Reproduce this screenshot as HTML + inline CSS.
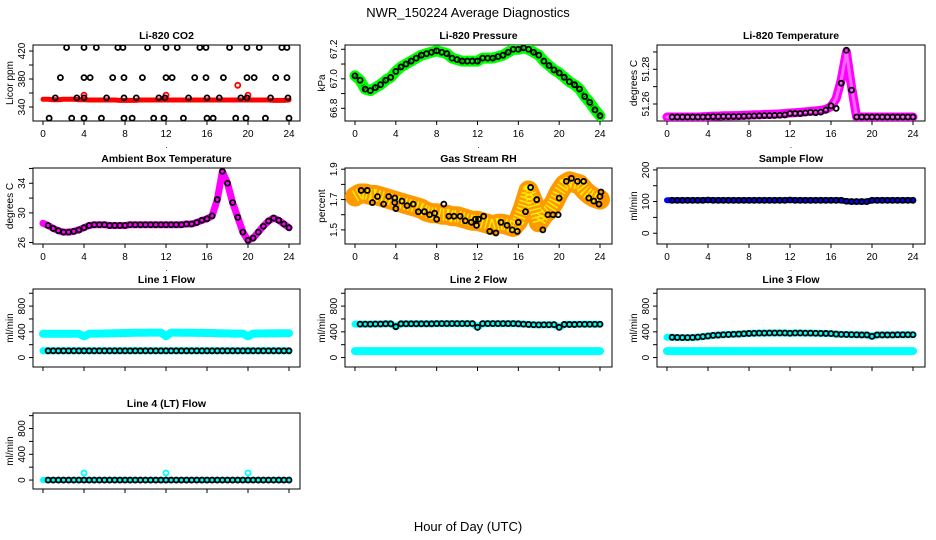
<!DOCTYPE html>
<html><head><meta charset="utf-8"><style>
body{margin:0;background:#fff}
svg{display:block;font-family:"Liberation Sans",sans-serif}
</style></head><body>
<svg id="c" width="936" height="540" viewBox="0 0 936 540">
<text x="468" y="17" text-anchor="middle" font-size="13">NWR_150224  Average Diagnostics</text>
<text x="468" y="531" text-anchor="middle" font-size="13">Hour of Day (UTC)</text>
</svg>
<script>
const halfHours=[0,0.5,1,1.5,2,2.5,3,3.5,4,4.5,5,5.5,6,6.5,7,7.5,8,8.5,9,9.5,10,10.5,11,11.5,12,12.5,13,13.5,14,14.5,15,15.5,16,16.5,17,17.5,18,18.5,19,19.5,20,20.5,21,21.5,22,22.5,23,23.5,24];
const xTicks=[0,4,8,12,16,20,24];
// CO2
const co2BlackX=[2.3,4.0,5.2,7.3,7.8,10.2,12.0,13.1,15.3,15.9,18.2,19.9,21.1,23.3,23.8,1.7,4.0,4.6,6.8,7.9,9.7,12.0,12.6,14.8,15.9,17.6,19.9,20.6,22.7,23.8,1.2,3.3,4.0,6.2,7.9,9.1,11.3,11.9,14.2,16.0,17.2,19.3,19.9,22.2,23.9,0.6,2.8,4.0,5.7,7.9,8.7,10.8,11.8,13.7,16.0,16.6,18.8,19.8,21.7,24.0];
const co2BlackY=[425,425,425,425,425,425,425,425,425,425,425,425,425,425,425,382,382,382,382,382,382,382,382,382,382,382,382,382,382,382,353,353,353,353,353,353,353,353,353,353,353,353,353,353,353,324,324,324,324,324,324,324,324,324,324,324,324,324,324,324];
const co2RedBand=[351,351,350.5,350.5,351,351,351,350.5,350.5,350,350,350,350,350,350,349.5,349.5,349.5,349.5,350,350,350,350,350,350,350,350,350,350,350,350,350,350,350,350,350,350,350,350,350,350,350,350,350,350,349.5,349.5,349.5,350];
const co2RedOutX=[4,12,19,20];
const co2RedOutY=[357,357,371,357];
// Pressure
const pressure=[67.02,66.99,66.93,66.92,66.94,66.96,66.99,67.01,67.05,67.08,67.10,67.12,67.14,67.16,67.17,67.18,67.19,67.18,67.17,67.14,67.13,67.12,67.12,67.12,67.12,67.14,67.14,67.14,67.15,67.16,67.18,67.2,67.2,67.21,67.2,67.18,67.16,67.12,67.09,67.06,67.04,67.01,66.98,66.96,66.93,66.88,66.84,66.79,66.75];
// Li-820 temperature
const tempMag=[51.2525,51.2525,51.2525,51.2525,51.2525,51.2525,51.2525,51.2527,51.2528,51.253,51.253,51.2532,51.2532,51.2533,51.2533,51.2535,51.2536,51.2538,51.2538,51.254,51.254,51.2542,51.2543,51.2545,51.2548,51.255,51.2552,51.2555,51.2558,51.256,51.2563,51.257,51.2585,51.263,51.274,51.29,51.27,51.2525,51.2525,51.2525,51.2525,51.2525,51.2525,51.2525,51.2525,51.2525,51.2525,51.2525,51.2525];
const tempBlk=[51.2525,51.2525,51.2525,51.2525,51.2525,51.2525,51.2525,51.2525,51.2526,51.2527,51.2527,51.2528,51.2528,51.2528,51.2528,51.2529,51.253,51.2531,51.2532,51.2533,51.2533,51.2534,51.2535,51.2537,51.2545,51.2545,51.2545,51.2548,51.2552,51.255,51.2553,51.2565,51.259,51.2575,51.272,51.291,51.268,51.2525,51.2525,51.2525,51.2525,51.2525,51.2525,51.2525,51.2525,51.2525,51.2525,51.2525,51.2525];
// Ambient
const ambient=[28.6,28.3,27.9,27.6,27.4,27.4,27.5,27.7,28.0,28.3,28.4,28.4,28.4,28.3,28.3,28.3,28.3,28.4,28.4,28.4,28.4,28.4,28.4,28.4,28.4,28.4,28.4,28.4,28.5,28.5,28.7,29.0,29.2,29.6,31.8,35.6,34.0,31.4,29.4,27.4,26.3,26.6,27.4,28.2,28.9,29.3,29.0,28.5,28.0];
// RH
const rhBand=[1.72,1.74,1.74,1.73,1.73,1.72,1.71,1.70,1.69,1.68,1.67,1.66,1.65,1.64,1.62,1.61,1.61,1.6,1.6,1.59,1.59,1.58,1.57,1.56,1.56,1.55,1.54,1.53,1.54,1.54,1.53,1.52,1.56,1.65,1.76,1.68,1.55,1.6,1.63,1.68,1.75,1.80,1.82,1.81,1.80,1.76,1.73,1.71,1.70];
const rhBlkX=[0.6,1.2,1.7,2.2,2.8,3.3,3.9,3.9,4.0,4.6,5.1,5.7,6.2,6.8,7.3,7.8,8.0,8.7,9.2,9.7,10.3,10.8,11.4,11.8,11.9,12.1,12.6,13.2,13.8,14.3,14.9,15.4,15.9,16.0,16.7,17.2,17.8,18.4,18.9,19.4,19.9,20.0,20.7,21.2,21.8,22.4,22.9,23.4,23.9,24.0,24.1];
const rhBlkY=[1.76,1.76,1.68,1.72,1.67,1.72,1.71,1.68,1.64,1.69,1.66,1.67,1.62,1.62,1.60,1.61,1.57,1.67,1.59,1.59,1.59,1.56,1.55,1.57,1.53,1.57,1.59,1.49,1.48,1.55,1.53,1.50,1.49,1.55,1.62,1.78,1.70,1.50,1.60,1.60,1.60,1.71,1.82,1.84,1.82,1.82,1.71,1.69,1.67,1.72,1.75];
// Flows
const sampleFlow=[104,104,104,104,104,104,104,104,105,104,104,104,104,104,104,104,104,104,104,104,104,104,104,104,105,104,104,104,104,104,104,104,104,104,104,101,100,100,100,100,104,104,104,104,104,104,104,104,104];
const line1Cyan=[370,370,370,370,370,370,370,370,330,370,372,372,374,376,378,380,382,384,385,386,386,388,388,388,330,388,388,386,386,386,384,384,382,382,378,375,375,372,372,372,330,372,374,374,376,376,378,378,378];
const line1Low=[105,105,105,105,105,105,105,105,105,105,105,105,105,105,105,105,105,105,105,105,105,105,105,105,105,105,105,105,105,105,105,105,105,105,105,105,105,105,105,105,105,105,105,105,105,105,105,105,105];
const line2Main=[520,520,520,520,522,522,525,525,480,525,525,525,525,525,525,525,528,528,528,528,528,528,528,528,470,528,528,528,528,528,528,528,525,520,515,510,508,510,510,512,470,515,515,515,518,518,518,518,518];
const line2Low=[100,100,100,100,100,100,100,100,100,100,100,100,100,100,100,100,100,100,100,100,100,100,100,100,100,100,100,100,100,100,100,100,100,100,100,100,100,100,100,100,100,100,100,100,100,100,100,100,100];
const line3Main=[315,315,312,310,310,312,318,325,335,345,350,355,358,362,365,370,375,378,380,380,382,382,382,382,378,382,382,380,380,378,376,375,372,365,360,358,356,354,352,352,330,352,352,352,352,354,354,355,355];
const line3Low=[100,100,100,100,100,100,100,100,100,100,100,100,100,100,100,100,100,100,100,100,100,100,100,100,100,100,100,100,100,100,100,100,100,100,100,100,100,100,100,100,100,100,100,100,100,100,100,100,100];
const line4=[0,0,0,0,0,0,0,0,0,0,0,0,0,0,0,0,0,0,0,0,0,0,0,0,0,0,0,0,0,0,0,0,0,0,0,0,0,0,0,0,0,0,0,0,0,0,0,0,0];
const line4SpikeX=[4,12,20];
const line4SpikeY=[110,110,110];

const NS='http://www.w3.org/2000/svg';
const svg=document.getElementById('c');
function mk(tag,attrs,parent){const e=document.createElementNS(NS,tag);for(const k in attrs)e.setAttribute(k,attrs[k]);(parent||svg).appendChild(e);return e;}
const cols=[{L:33,R:300,x0:43,x24:289},{L:345,R:612,x0:355,x24:600},{L:657,R:925,x0:667,x24:913}];
const rows=[{T:45,B:121},{T:168,B:244},{T:289,B:367},{T:413,B:489}];

function panel(name,title,ylab,ci,ri,yTop,yBot,yt,yl,labelX){
  const c=cols[ci],r=rows[ri];
  const g=mk('g',{});
  
  
  const sx=h=>c.x0+(c.x24-c.x0)*h/24;
  const sy=v=>r.T+(r.B-r.T)*(yTop-v)/(yTop-yBot);
  const t=mk('text',{x:(c.L+c.R)/2,y:r.T-6,'text-anchor':'middle','font-size':10.5,'font-weight':'bold'},g);
  t.textContent=title;
  
  
  const b=mk('rect',{x:c.L,y:r.T,width:c.R-c.L,height:r.B-r.T,fill:'none',stroke:'#000','stroke-width':1},g);
  
  
  const xa=mk('g',{},g);
  
  
  mk('line',{x1:sx(0),x2:sx(24),y1:r.B,y2:r.B,stroke:'#000'},xa);
  xTicks.forEach(h=>{mk('line',{x1:sx(h),x2:sx(h),y1:r.B,y2:r.B+4,stroke:'#000'},xa);
    if(labelX){const tl=mk('text',{x:sx(h),y:r.B+16,'text-anchor':'middle','font-size':10},xa);tl.textContent=h;}});
  if(labelX){const d=mk('text',{x:(c.L+c.R)/2,y:r.B+27,'text-anchor':'middle','font-size':8},xa);d.textContent='.';}
  const ya=mk('g',{},g);
  
  
  yt.forEach(v=>mk('line',{x1:c.L-4,x2:c.L,y1:sy(v),y2:sy(v),stroke:'#000'},ya));
  yl.forEach(v=>{const y=sy(v);const tl=mk('text',{x:c.L-8,y:y,'text-anchor':'middle','font-size':10,transform:`rotate(-90 ${c.L-8} ${y})`},ya);tl.textContent=v;});
  const yc=(r.T+r.B)/2;
  const yt2=mk('text',{x:c.L-20,y:yc,'text-anchor':'middle','font-size':10,transform:`rotate(-90 ${c.L-20} ${yc})`},ya);
  yt2.textContent=ylab;
  
  
  const clip='cl'+name;
  const cp=mk('clipPath',{id:clip},g);mk('rect',{x:c.L,y:r.T,width:c.R-c.L,height:r.B-r.T},cp);
  const m=mk('g',{'clip-path':`url(#${clip})`},g);
  return {sx,sy,g:m};
}
function band(p,xs,ys,color,w,name,dash){
  const d=xs.map((x,i)=>(i?'L':'M')+p.sx(x).toFixed(1)+','+p.sy(ys[i]).toFixed(1)).join('');
  const e=mk('path',{d:d,fill:'none',stroke:color,'stroke-width':w,'stroke-linejoin':'round','stroke-linecap':'round'},p.g);
  if(dash){e.setAttribute('stroke-dasharray',dash);e.setAttribute('stroke-linecap','butt');}
  
  
}
function pts(p,xs,ys,color,name,r){
  const gg=mk('g',{},p.g);
  
  
  xs.forEach((x,i)=>{if(ys[i]==null)return;mk('circle',{cx:p.sx(x),cy:p.sy(ys[i]),r:r||2.5,fill:'none',stroke:color,'stroke-width':1.8},gg);});
}
const blkX=halfHours.slice(1);
function sub(a){return a.slice(1);}

let p;
p=panel('co2-panel','Li-820 CO2','Licor ppm',0,0,428.6,320,[340,360,380,400,420],[340,380,420],true);
band(p,halfHours,co2RedBand,'#ff0000',5,'co2-red-series');
pts(p,co2RedOutX,co2RedOutY,'#ff0000','co2-red-outliers');
pts(p,co2BlackX,co2BlackY,'#000','co2-black-points');

p=panel('pressure-panel','Li-820 Pressure','kPa',1,0,67.229,66.714,[66.8,66.9,67.0,67.1,67.2],['66.8','67.0','67.2'],true);
band(p,halfHours,pressure,'#00ff00',11,'pressure-green-series');
band(p,halfHours,pressure,'#0a6a0a',4,'pressure-green-dots','1 3');
pts(p,halfHours,pressure,'#000','pressure-black-points');

p=panel('li820-temp-panel','Li-820 Temperature','degrees C',2,0,51.294,51.2502,[51.26,51.27,51.28,51.29],['51.26','51.28'],true);
band(p,halfHours,tempMag,'#ff00ff',9,'temp-magenta-series');
band(p,halfHours,tempMag,'#ff66ff',3,'temp-magenta-core');
pts(p,blkX,sub(tempBlk),'#000','temp-black-points');

p=panel('ambient-panel','Ambient Box Temperature','degrees C',0,1,36.06,25.8,[26,28,30,32,34,36],[26,30,34],true);
band(p,halfHours,ambient,'#ff00ff',7,'ambient-magenta-series');
pts(p,blkX,sub(ambient),'#000','ambient-black-points');

p=panel('rh-panel','Gas Stream RH','percent',1,1,1.908,1.407,[1.5,1.6,1.7,1.8,1.9],['1.5','1.7','1.9'],true);
band(p,halfHours,rhBand,'#ff9900',20,'rh-orange-series');
band(p,halfHours,rhBand,'#ffee00',12,'rh-yellow-series','1.5 2.5');
pts(p,rhBlkX,rhBlkY,'#000','rh-black-points');

p=panel('sample-flow-panel','Sample Flow','ml/min',2,1,206,-34,[0,50,100,150,200],[0,100,200],true);
band(p,halfHours,sampleFlow,'#0000ff',6,'sample-flow-blue-series');
pts(p,blkX,sub(sampleFlow),'#000','sample-flow-black-points');

p=panel('line1-panel','Line 1 Flow','ml/min',0,2,1066,-147,[0,200,400,600,800,1000],[0,400,800],false);
band(p,halfHours,line1Cyan,'#00ffff',8,'line1-cyan-high');
band(p,halfHours,line1Low,'#00ffff',7,'line1-cyan-low');
pts(p,blkX,sub(line1Low),'#000','line1-black-points');

p=panel('line2-panel','Line 2 Flow','ml/min',1,2,1066,-147,[0,200,400,600,800,1000],[0,400,800],false);
band(p,halfHours,line2Main,'#00ffff',7,'line2-cyan-high');
band(p,halfHours,line2Low,'#00ffff',8,'line2-cyan-low');
pts(p,blkX,sub(line2Main),'#000','line2-black-points');

p=panel('line3-panel','Line 3 Flow','ml/min',2,2,1066,-147,[0,200,400,600,800,1000],[0,400,800],false);
band(p,halfHours,line3Main,'#00ffff',7,'line3-cyan-high');
band(p,halfHours,line3Low,'#00ffff',8,'line3-cyan-low');
pts(p,blkX,sub(line3Main),'#000','line3-black-points');

p=panel('line4-panel','Line 4 (LT) Flow','ml/min',0,3,1041,-139,[0,200,400,600,800,1000],[0,400,800],false);
band(p,halfHours,line4,'#00ffff',6,'line4-cyan-series');
pts(p,line4SpikeX,line4SpikeY,'#00ffff','line4-cyan-spikes');
pts(p,blkX,sub(line4),'#000','line4-black-points');
</script>
</body></html>
